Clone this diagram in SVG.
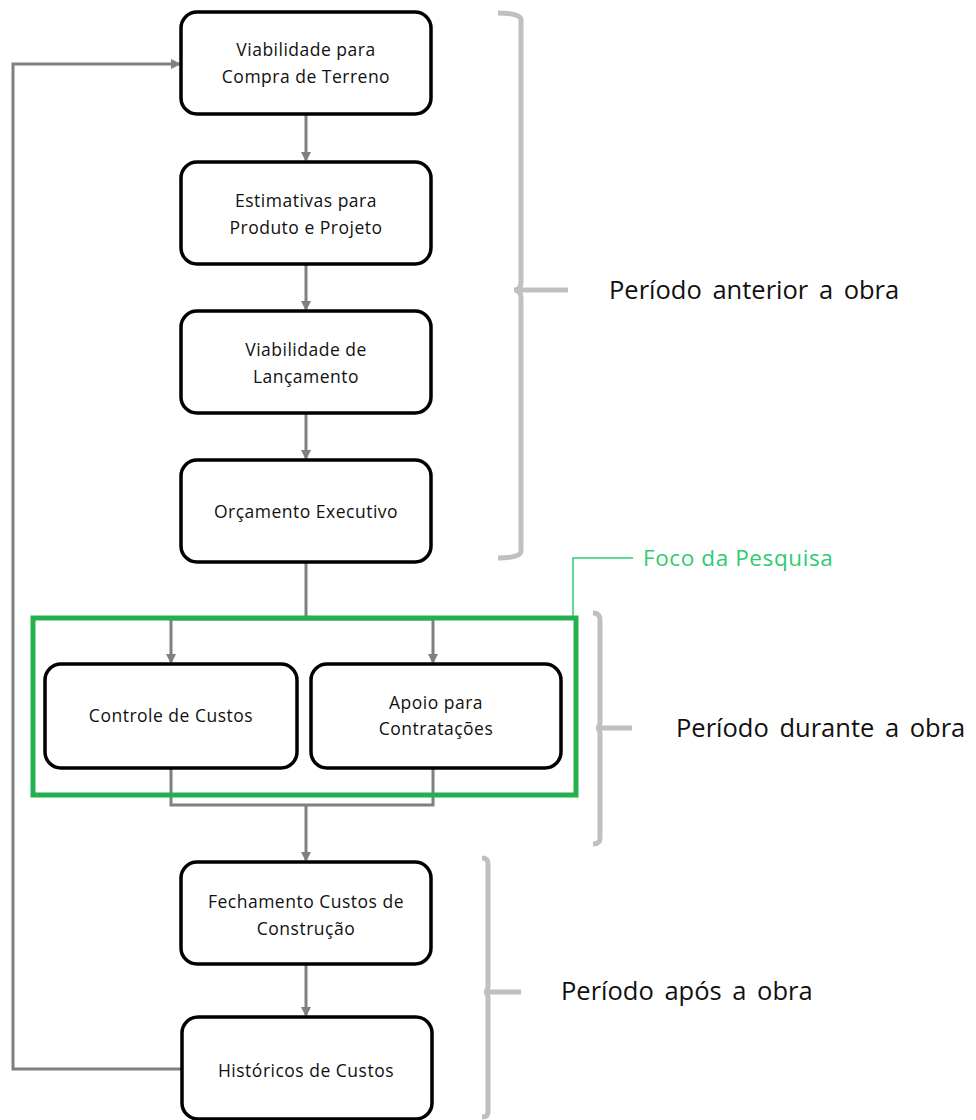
<svg xmlns="http://www.w3.org/2000/svg" width="976" height="1120" viewBox="0 0 976 1120">
<defs>
<style>
.box{fill:#fff;stroke:#000;stroke-width:3.5}
.t{font-family:"Open Sans","Liberation Sans",sans-serif;font-size:17.5px;letter-spacing:0.5px;fill:#111;text-anchor:middle}
.lbl{font-family:"Open Sans","Liberation Sans",sans-serif;font-size:25.5px;word-spacing:4px;fill:#111}
.c{fill:none;stroke:#808080;stroke-width:3}
.br{fill:none;stroke:#c0c0c0;stroke-width:5}
</style>
<marker id="ah" markerWidth="10" markerHeight="10" refX="8" refY="5" orient="auto" markerUnits="userSpaceOnUse">
<path d="M0,0 L10,5 L0,10 z" fill="#808080"/>
</marker>
</defs>
<rect width="976" height="1120" fill="#fff"/>
<g id="connectors">
<line class="c" x1="306" y1="114" x2="306" y2="160" marker-end="url(#ah)"/>
<line class="c" x1="306" y1="264" x2="306" y2="309" marker-end="url(#ah)"/>
<line class="c" x1="306" y1="413" x2="306" y2="458" marker-end="url(#ah)"/>
<polyline class="c" points="306,562 306,619"/>
<line class="c" x1="171" y1="619" x2="433" y2="619"/>
<line class="c" x1="171" y1="619" x2="171" y2="662" marker-end="url(#ah)"/>
<line class="c" x1="433" y1="619" x2="433" y2="662" marker-end="url(#ah)"/>
<polyline class="c" points="171,768 171,805 433,805 433,768"/>
<line class="c" x1="306" y1="805" x2="306" y2="860" marker-end="url(#ah)"/>
<line class="c" x1="306" y1="964" x2="306" y2="1015" marker-end="url(#ah)"/>
<polyline class="c" points="182,1069 13,1069 13,64 179,64" marker-end="url(#ah)"/>
</g>
<g id="focus">
<rect x="33" y="618" width="543" height="177" fill="none" stroke="#22b14c" stroke-width="5"/>
<polyline points="573,616 573,558 633,558" fill="none" stroke="#2ecc71" stroke-width="1.5"/>
<text x="643" y="566" font-family="'Open Sans','Liberation Sans',sans-serif" font-size="22.5" letter-spacing="0.6" fill="#2ecc71">Foco da Pesquisa</text>
</g>
<g id="n1"><rect class="box" x="181" y="12" width="250" height="102" rx="16"/>
<text class="t" x="306" y="56">Viabilidade para</text><text class="t" x="306" y="83">Compra de Terreno</text></g>
<g id="n2"><rect class="box" x="181" y="162" width="250" height="102" rx="16"/>
<text class="t" x="306" y="207">Estimativas para</text><text class="t" x="306" y="234">Produto e Projeto</text></g>
<g id="n3"><rect class="box" x="181" y="311" width="250" height="102" rx="16"/>
<text class="t" x="306" y="356">Viabilidade de</text><text class="t" x="306" y="383">Lançamento</text></g>
<g id="n4"><rect class="box" x="181" y="460" width="250" height="102" rx="16"/>
<text class="t" x="306" y="518">Orçamento Executivo</text></g>
<g id="n5"><rect class="box" x="45" y="664" width="252" height="104" rx="16"/>
<text class="t" x="171" y="722">Controle de Custos</text></g>
<g id="n6"><rect class="box" x="311" y="664" width="250" height="104" rx="16"/>
<text class="t" x="436" y="709">Apoio para</text><text class="t" x="436" y="735">Contratações</text></g>
<g id="n7"><rect class="box" x="181" y="862" width="250" height="102" rx="16"/>
<text class="t" x="306" y="908">Fechamento Custos de</text><text class="t" x="306" y="935">Construção</text></g>
<g id="n8"><rect class="box" x="182" y="1017" width="250" height="102" rx="16"/>
<text class="t" x="306" y="1077">Históricos de Custos</text></g>
<g id="brackets">
<path class="br" d="M498,13 Q521,13 521,20 L521,282 Q521,290 514,290 Q521,290 521,298 L521,551 Q521,558 498,558"/>
<line class="br" x1="521" y1="290" x2="568" y2="290"/>
<path class="br" d="M593,613 Q600,613 600,620 L600,722 Q600,728 596,728 Q600,728 600,734 L600,838 Q600,844 593,844"/>
<line class="br" x1="600" y1="728" x2="632" y2="728"/>
<path class="br" d="M482,858 Q488,858 488,864 L488,986 Q488,992 484,992 Q488,992 488,998 L488,1112 Q488,1117 482,1117"/>
<line class="br" x1="488" y1="992" x2="521" y2="992"/>
</g>
<g id="labels">
<text class="lbl" x="609" y="299">Período anterior a obra</text>
<text class="lbl" x="676" y="737">Período durante a obra</text>
<text class="lbl" x="561" y="1000">Período após a obra</text>
</g>
</svg>
